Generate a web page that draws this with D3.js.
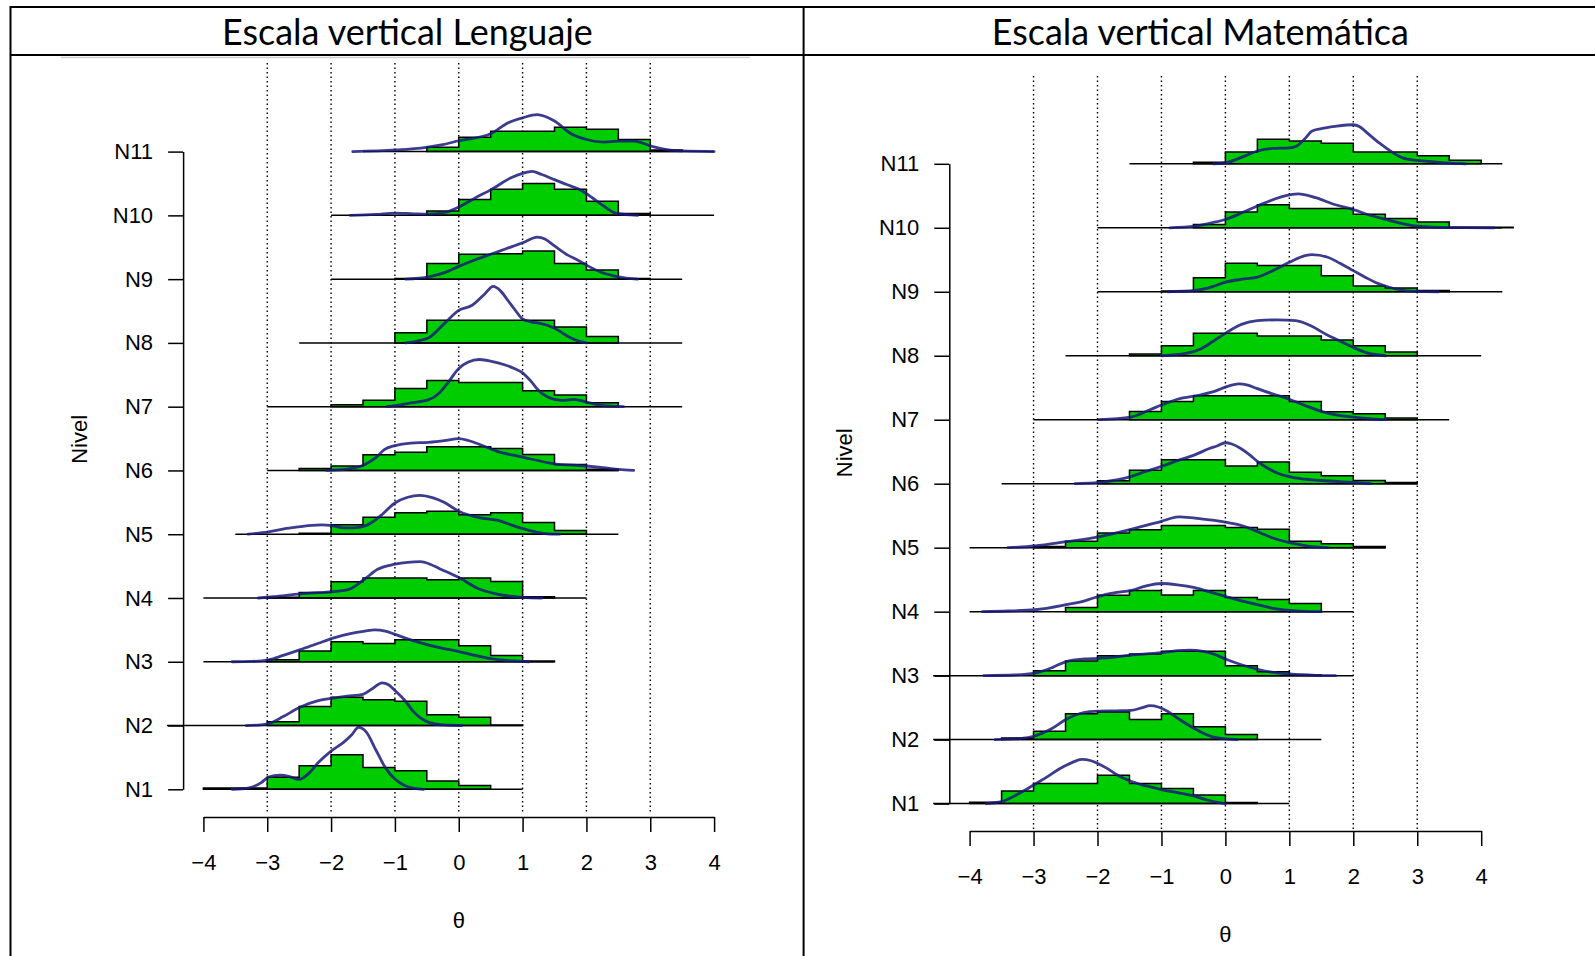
<!DOCTYPE html>
<html><head><meta charset="utf-8">
<script src="https://cdn.jsdelivr.net/npm/d3@7"></script>
<style>body{margin:0;background:#fff} svg{display:block}</style>
</head><body>
<svg id="c" width="1595" height="956"></svg>
<script>
// ---------- DATA ----------
const levels = ["N1","N2","N3","N4","N5","N6","N7","N8","N9","N10","N11"];
const xTicks = [-4,-3,-2,-1,0,1,2,3,4];
const xTickLabels = ["\u22124","\u22123","\u22122","\u22121","0","1","2","3","4"];
const gridValues = [-3,-2,-1,0,1,2,3];
const titles = ["Escala vertical Lenguaje", "Escala vertical Matemática"];
const binWidth = 0.5;

// Lenguaje: horizontal reference segments per level [from, to]
const lenBaselines = [[-4,1],[-4.57,1],[-4,1.5],[-4,2],[-3.5,2.5],[-3,2.5],[-3,3.5],[-2.5,3.5],[-2,3.5],[-2,4],[-1.5,4]];
// Lenguaje histogram: first break and densities per 0.5-wide bin
const lenHistStart = [-4,-3,-3,-3,-2.5,-2.5,-2,-1,-1,-0.5,-0.5];
const lenHist = [
  [0.02,0.02,0.19,0.37,0.54,0.34,0.29,0.13,0.06],
  [0.06,0.3,0.445,0.405,0.38,0.17,0.13,0.01],
  [0.03,0.17,0.315,0.285,0.345,0.345,0.25,0.097,0.01],
  [0.01,0.085,0.255,0.315,0.315,0.285,0.315,0.26,0.02],
  [0.015,0.15,0.265,0.335,0.36,0.305,0.335,0.185,0.06],
  [0.03,0.07,0.245,0.285,0.37,0.37,0.345,0.25,0.095,0.02],
  [0.03,0.1,0.285,0.41,0.38,0.38,0.25,0.185,0.06],
  [0.16,0.355,0.355,0.355,0.355,0.25,0.1],
  [0.01,0.245,0.39,0.40,0.44,0.245,0.145,0.01],
  [0.07,0.25,0.41,0.5,0.41,0.22,0.03],
  [0.068,0.225,0.32,0.32,0.38,0.35,0.19,0.026]
];
// Lenguaje density curves [theta, density]
const lenCurves = [
  [[-3.55,0],[-3.3,0.02],[-3.1,0.1],[-2.98,0.19],[-2.8,0.22],[-2.65,0.2],[-2.5,0.155],[-2.35,0.25],[-2.2,0.42],[-2,0.6],[-1.8,0.74],[-1.68,0.85],[-1.57,0.97],[-1.45,0.9],[-1.3,0.62],[-1.15,0.34],[-1,0.16],[-0.85,0.06],[-0.7,0.015],[-0.55,0]],
  [[-3.33,0],[-3.1,0.01],[-2.98,0.03],[-2.75,0.14],[-2.48,0.29],[-2.2,0.39],[-1.97,0.43],[-1.75,0.46],[-1.5,0.49],[-1.35,0.58],[-1.2,0.67],[-1.1,0.64],[-1,0.55],[-0.85,0.4],[-0.72,0.23],[-0.6,0.12],[-0.47,0.05],[-0.25,0.01],[0.05,0]],
  [[-3.55,0],[-3.25,0.005],[-2.98,0.03],[-2.75,0.1],[-2.48,0.19],[-2.2,0.29],[-1.97,0.37],[-1.7,0.44],[-1.47,0.48],[-1.32,0.5],[-1.15,0.48],[-1,0.43],[-0.8,0.36],[-0.61,0.3],[-0.3,0.22],[0,0.16],[0.25,0.1],[0.5,0.05],[0.75,0.02],[1,0.005],[1.1,0]],
  [[-3.14,0],[-2.9,0.02],[-2.48,0.065],[-2.2,0.085],[-1.97,0.1],[-1.71,0.14],[-1.47,0.3],[-1.27,0.45],[-1,0.53],[-0.8,0.56],[-0.6,0.57],[-0.45,0.53],[-0.3,0.46],[0,0.32],[0.32,0.14],[0.6,0.06],[1,0.01],[1.3,0]],
  [[-3.3,0],[-2.98,0.036],[-2.7,0.09],[-2.48,0.12],[-2.3,0.14],[-2.15,0.146],[-1.97,0.13],[-1.8,0.1],[-1.65,0.1],[-1.47,0.13],[-1.3,0.23],[-1.2,0.31],[-1,0.49],[-0.8,0.58],[-0.61,0.61],[-0.4,0.57],[-0.23,0.5],[0,0.36],[0.32,0.26],[0.6,0.22],[0.87,0.13],[1.15,0.05],[1.35,0.01],[1.58,0]],
  [[-2.07,0],[-1.76,0.02],[-1.47,0.094],[-1.3,0.2],[-1.16,0.33],[-1,0.39],[-0.75,0.43],[-0.47,0.44],[-0.2,0.47],[0,0.5],[0.15,0.47],[0.32,0.41],[0.6,0.3],[1,0.21],[1.5,0.104],[2,0.07],[2.3,0.04],[2.5,0.016],[2.74,0]],
  [[-1.13,0],[-1,0.016],[-0.75,0.06],[-0.47,0.11],[-0.3,0.22],[-0.17,0.375],[0,0.6],[0.15,0.7],[0.32,0.74],[0.6,0.69],[0.87,0.6],[1,0.53],[1.13,0.4],[1.26,0.245],[1.5,0.115],[1.65,0.1],[1.8,0.115],[2,0.073],[2.25,0.02],[2.58,0]],
  [[-0.83,0],[-0.65,0.03],[-0.47,0.08],[-0.22,0.31],[0,0.51],[0.21,0.59],[0.4,0.76],[0.54,0.885],[0.65,0.82],[0.76,0.68],[0.88,0.52],[1,0.375],[1.13,0.33],[1.26,0.31],[1.5,0.23],[1.75,0.08],[1.9,0.02],[2,0]],
  [[-0.83,0],[-0.47,0.036],[-0.2,0.11],[0,0.2],[0.25,0.3],[0.5,0.39],[0.75,0.48],[1,0.57],[1.23,0.66],[1.35,0.63],[1.5,0.52],[1.7,0.38],[1.86,0.3],[2,0.22],[2.25,0.1],[2.5,0.036],[2.8,0]],
  [[-1.7,0],[-1.3,0.015],[-1,0.036],[-0.7,0.025],[-0.47,0.02],[-0.2,0.05],[0,0.13],[0.25,0.27],[0.5,0.4],[0.82,0.59],[1,0.66],[1.15,0.69],[1.3,0.64],[1.5,0.56],[1.7,0.48],[1.86,0.42],[2,0.34],[2.25,0.16],[2.47,0.03],[2.8,0]],
  [[-1.66,0],[-0.98,0.026],[-0.51,0.068],[-0.25,0.11],[0,0.17],[0.5,0.28],[0.77,0.45],[1,0.53],[1.23,0.58],[1.5,0.48],[1.76,0.28],[2,0.19],[2.28,0.15],[2.5,0.165],[2.75,0.165],[3,0.09],[3.26,0.03],[3.5,0.01],[4,0]]
];

// Matemática
const matBaselines = [[-4.57,1],[-4.57,1.5],[-4.57,2],[-4,2],[-4,2.5],[-3.5,3],[-3,3.5],[-2.5,4],[-2,4.33],[-2,4.33],[-1.5,4.33]];
const matHistStart = [-4,-3.5,-3,-2.5,-3,-2,-1.5,-1.5,-1,-0.5,-0.5];
const matHist = [
  [0.02,0.195,0.315,0.315,0.445,0.315,0.235,0.135,0.018],
  [0.026,0.13,0.405,0.43,0.315,0.405,0.2,0.08],
  [0.075,0.23,0.31,0.34,0.38,0.38,0.155,0.06,0.01],
  [0.065,0.255,0.33,0.26,0.33,0.22,0.19,0.126],
  [0.02,0.1,0.23,0.28,0.345,0.345,0.315,0.29,0.1,0.06,0.02],
  [0.045,0.21,0.375,0.375,0.275,0.34,0.18,0.125,0.05,0.02],
  [0.13,0.285,0.373,0.373,0.373,0.285,0.125,0.095,0.026],
  [0.026,0.155,0.35,0.35,0.31,0.31,0.245,0.155,0.057],
  [0.01,0.22,0.445,0.41,0.41,0.25,0.09,0.06,0.02],
  [0.05,0.245,0.36,0.3,0.3,0.21,0.145,0.09,0.01,0.01],
  [0.026,0.185,0.385,0.355,0.32,0.185,0.185,0.125,0.055]
];
const matCurves = [
  [[-3.74,0],[-3.5,0.03],[-3.3,0.12],[-3.15,0.2],[-3,0.29],[-2.8,0.41],[-2.6,0.54],[-2.4,0.64],[-2.25,0.69],[-2.1,0.67],[-1.98,0.62],[-1.85,0.55],[-1.73,0.47],[-1.6,0.4],[-1.48,0.35],[-1.25,0.28],[-1,0.22],[-0.75,0.17],[-0.5,0.12],[-0.3,0.06],[-0.13,0.02],[0,0]],
  [[-3.6,0],[-3.22,0.016],[-2.98,0.057],[-2.72,0.17],[-2.5,0.31],[-2.23,0.42],[-1.98,0.445],[-1.7,0.45],[-1.48,0.456],[-1.3,0.5],[-1.18,0.53],[-1.05,0.51],[-0.9,0.44],[-0.77,0.35],[-0.6,0.24],[-0.48,0.17],[-0.3,0.08],[-0.19,0.04],[0.18,0]],
  [[-3.78,0],[-3.3,0.01],[-2.98,0.04],[-2.7,0.13],[-2.49,0.22],[-2.2,0.26],[-1.98,0.27],[-1.48,0.32],[-1,0.36],[-0.75,0.39],[-0.56,0.4],[-0.35,0.38],[-0.19,0.34],[0,0.26],[0.25,0.17],[0.5,0.1],[0.75,0.05],[1,0.026],[1.41,0.005],[1.72,0]],
  [[-3.8,0],[-3.4,0.01],[-2.98,0.03],[-2.49,0.11],[-2.2,0.17],[-1.98,0.24],[-1.7,0.3],[-1.48,0.33],[-1.25,0.4],[-1,0.44],[-0.75,0.42],[-0.48,0.375],[-0.25,0.31],[0,0.24],[0.25,0.17],[0.5,0.11],[0.75,0.05],[1,0.02],[1.25,0.005],[1.5,0]],
  [[-3.4,0],[-2.98,0.026],[-2.49,0.093],[-1.98,0.17],[-1.48,0.285],[-1.2,0.36],[-1,0.41],[-0.85,0.46],[-0.72,0.48],[-0.55,0.47],[-0.38,0.45],[-0.2,0.43],[0,0.4],[0.2,0.36],[0.36,0.31],[0.55,0.23],[0.73,0.155],[1,0.078],[1.29,0.026],[1.6,0]],
  [[-2.35,0],[-1.98,0.02],[-1.48,0.11],[-1.25,0.19],[-1,0.27],[-0.75,0.36],[-0.48,0.45],[-0.25,0.55],[-0.13,0.59],[0,0.64],[0.1,0.62],[0.24,0.55],[0.38,0.45],[0.5,0.35],[0.65,0.25],[0.8,0.17],[1.1,0.09],[1.5,0.05],[2,0.02],[2.27,0]],
  [[-1.98,0],[-1.48,0.04],[-1.18,0.155],[-1,0.23],[-0.75,0.32],[-0.38,0.39],[-0.15,0.45],[0,0.51],[0.21,0.56],[0.35,0.54],[0.49,0.49],[0.75,0.4],[1,0.32],[1.25,0.22],[1.5,0.13],[1.75,0.07],[2,0.04],[2.25,0.015],[2.51,0]],
  [[-1,0],[-0.62,0.036],[-0.38,0.11],[-0.2,0.22],[0,0.35],[0.25,0.49],[0.5,0.55],[0.8,0.56],[1.1,0.55],[1.35,0.46],[1.6,0.32],[1.75,0.25],[2,0.13],[2.2,0.05],[2.34,0.02],[2.5,0]],
  [[-0.9,0],[-0.48,0.02],[-0.2,0.08],[0,0.15],[0.3,0.2],[0.5,0.23],[0.8,0.36],[1,0.46],[1.2,0.55],[1.35,0.58],[1.6,0.54],[1.8,0.44],[2,0.33],[2.2,0.22],[2.34,0.15],[2.5,0.09],[2.65,0.047],[3,0.005],[3.33,0]],
  [[-0.87,0],[-0.48,0.026],[-0.2,0.08],[0,0.13],[0.25,0.23],[0.5,0.34],[0.86,0.48],[1.14,0.53],[1.41,0.47],[1.72,0.36],[2,0.285],[2.25,0.2],[2.51,0.13],[2.75,0.07],[3,0.026],[3.51,0.003],[4.2,0]],
  [[-0.19,0],[0,0.016],[0.3,0.12],[0.5,0.2],[0.73,0.24],[1,0.25],[1.1,0.27],[1.25,0.4],[1.35,0.51],[1.5,0.55],[1.72,0.585],[2,0.61],[2.1,0.58],[2.22,0.48],[2.4,0.33],[2.51,0.25],[2.77,0.093],[3,0.052],[3.27,0.03],[3.51,0.01],[3.76,0]]
];

// ---------- LAYOUT ----------
const svg = d3.select("#c");
const FONT = "'Liberation Sans', Arial, sans-serif";
const FS = 22;
const GREEN = "#00cd00";
const CURVE = "#1a1a7a";

const panels = [
  {title: titles[0], cx: 407.4, xRange:[203.4,714.1], yRange:[789.3,151.6], yAxisX:183.1, xAxisY:817,
   gridTop:63, gridBottom:814, nivelX:79.3, nivelY:439.4, thetaY:920.6,
   baselines: lenBaselines, histStart: lenHistStart, hist: lenHist, curves: lenCurves},
  {title: titles[1], cx: 1200.3, xRange:[969.6,1481.2], yRange:[803.6,163.8], yAxisX:949.3, xAxisY:831,
   gridTop:76, gridBottom:829, nivelX:844.3, nivelY:452.7, thetaY:934,
   baselines: matBaselines, histStart: matHistStart, hist: matHist, curves: matCurves}
];

// frame (table borders)
const frame = svg.append("g").attr("stroke","#000").attr("stroke-width",2);
frame.append("line").attr("x1",10.5).attr("x2",1595).attr("y1",7).attr("y2",7);
frame.append("line").attr("x1",10.5).attr("x2",1595).attr("y1",55).attr("y2",55);
frame.append("line").attr("x1",10.5).attr("x2",10.5).attr("y1",6).attr("y2",956);
frame.append("line").attr("x1",803.6).attr("x2",803.6).attr("y1",6).attr("y2",956);
svg.append("line").attr("x1",61).attr("x2",750).attr("y1",57.5).attr("y2",57.5)
  .attr("stroke","#d0d0d0").attr("stroke-width",1.5);

// title font size fitting
const TITLE_FONT = "Lato, 'Open Sans', sans-serif";
const probe = svg.append("text").attr("font-family",TITLE_FONT).attr("font-size",100).text(titles[0]);
const titleSize = 100 * 371 / probe.node().getComputedTextLength();
probe.remove();

panels.forEach(p => {
  const g = svg.append("g");
  const x = d3.scaleLinear().domain([-4,4]).range(p.xRange);
  const y = d3.scaleLinear().domain([1,11]).range(p.yRange);

  g.append("text").attr("x",p.cx).attr("y",31).attr("text-anchor","middle")
    .attr("dominant-baseline","central").attr("font-family",TITLE_FONT)
    .attr("font-size",titleSize).attr("fill","#000").text(p.title);

  // dotted grid
  g.append("g").selectAll("line").data(gridValues).join("line")
    .attr("x1",d=>x(d)).attr("x2",d=>x(d)).attr("y1",p.gridTop).attr("y2",p.gridBottom)
    .attr("stroke","#000").attr("stroke-width",1.4).attr("stroke-dasharray","1.4,3.1");

  const stepLine = d3.line().x(d=>x(d[0])).y(d=>y(d[1]));
  const smooth = d3.line().x(d=>x(d[0])).y(d=>y(d[1])).curve(d3.curveMonotoneX);

  levels.forEach((lv, i) => {
    const base = i + 1;
    const pts = [];
    const s = p.histStart[i];
    pts.push([s, base]);
    p.hist[i].forEach((h, j) => {
      pts.push([s + j*binWidth, base + h]);
      pts.push([s + (j+1)*binWidth, base + h]);
    });
    pts.push([s + p.hist[i].length*binWidth, base]);
    g.append("path").attr("d", stepLine(pts) + "Z")
      .attr("fill",GREEN).attr("stroke","#000").attr("stroke-width",1.5)
      .attr("stroke-linejoin","miter");
    const bl = p.baselines[i];
    g.append("line").attr("x1",x(bl[0])).attr("x2",x(bl[1])).attr("y1",y(base)).attr("y2",y(base))
      .attr("stroke","#000").attr("stroke-width",1.5);
    g.append("path").attr("d", smooth(p.curves[i].map(d=>[d[0], base + d[1]])))
      .attr("fill","none").attr("stroke",CURVE).attr("stroke-width",2.8)
      .attr("stroke-opacity",0.85).attr("stroke-linecap","round");
  });

  const ya = g.append("g").attr("transform",`translate(${p.yAxisX},0)`)
    .call(d3.axisLeft(y).tickValues(d3.range(1,12)).tickFormat(d=>levels[d-1])
      .tickSize(15).tickSizeOuter(0).tickPadding(15));
  const xa = g.append("g").attr("transform",`translate(0,${p.xAxisY})`)
    .call(d3.axisBottom(x).tickValues(xTicks).tickFormat((d,k)=>xTickLabels[k])
      .tickSize(15).tickSizeOuter(0).tickPadding(22));
  [ya, xa].forEach(a => {
    a.select(".domain").attr("stroke","#000").attr("stroke-width",1.5);
    a.selectAll(".tick line").attr("stroke","#000").attr("stroke-width",1.5);
    a.selectAll(".tick text").attr("font-family",FONT).attr("font-size",FS).attr("fill","#000");
  });

  g.append("text").attr("x",x(0)).attr("y",p.thetaY).attr("text-anchor","middle")
    .attr("dominant-baseline","central").attr("font-family",FONT).attr("font-size",FS).text("θ");
  g.append("text").attr("transform",`translate(${p.nivelX},${p.nivelY}) rotate(-90)`)
    .attr("text-anchor","middle").attr("dominant-baseline","central")
    .attr("font-family",FONT).attr("font-size",FS).text("Nivel");
});
</script>
</body></html>
